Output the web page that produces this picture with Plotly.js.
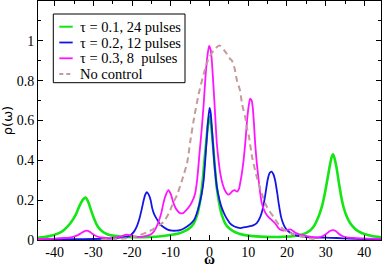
<!DOCTYPE html>
<html>
<head>
<meta charset="utf-8">
<script src="https://cdn.plot.ly/plotly-3.0.1.min.js"></script>
<style>html,body{margin:0;padding:0;background:#fff;}#chart{width:382px;height:268px;}</style>
</head>
<body>
<div id="chart"></div>
<script>
// ---- data ----
const seriesNames = ["τ = 0.1, 24 pulses", "τ = 0.2, 12 pulses", "τ = 0.3, 8\u00a0 pulses", "No control"];

const greenX = [-44.3,-42,-40.2,-38.5,-37.6,-36,-34.6,-33.5,-32.6,-32.0,-31.3,-30.6,-30.0,-29.2,-28.5,-27.5,-26.4,-25,-23,-20,-17,-14,-12,-10.2,-8,-6.7,-5,-4.1,-3.2,-2.4,-1.8,-1.3,-0.8,-0.4,0,0.4,0.9,1.4,1.9,2.6,3.2,4.0,5.0,6.0,7.0,8.5,10,13,16,19,22,24,26,27,27.8,28.5,29.2,30.0,30.6,31.1,31.6,31.9,32.3,32.8,33.4,34.0,34.6,35.5,36.4,37.5,38.5,40,42,44.3];
const greenY = [0.011,0.017,0.025,0.038,0.05,0.083,0.125,0.175,0.205,0.213,0.19,0.15,0.117,0.08,0.058,0.04,0.029,0.022,0.017,0.014,0.014,0.016,0.02,0.025,0.033,0.042,0.062,0.083,0.125,0.2,0.29,0.4,0.5,0.58,0.622,0.58,0.48,0.36,0.26,0.175,0.125,0.085,0.06,0.046,0.036,0.027,0.022,0.017,0.015,0.016,0.02,0.028,0.048,0.07,0.1,0.135,0.18,0.255,0.32,0.375,0.42,0.43,0.41,0.365,0.29,0.22,0.167,0.115,0.083,0.058,0.043,0.03,0.02,0.014];

const blueX = [-44.3,-35,-30,-26,-24,-22,-21,-20.3,-19.5,-18.8,-18.2,-17.5,-17.0,-16.6,-16.2,-15.7,-15.2,-14.8,-14.3,-13.6,-12.8,-11.9,-10.8,-9.7,-8.6,-7.6,-6.3,-5.0,-4.0,-3.3,-2.6,-2.0,-1.5,-1.1,-0.5,0,0.3,0.6,1.2,1.9,2.6,3.2,4.1,4.7,5.3,6.2,7.1,8.0,9.2,10.2,11.4,12.2,13.1,13.8,14.4,15.0,15.5,16.0,16.5,17.0,17.5,17.9,18.5,19.2,20.0,21.0,22.1,24.5,27,30,33,36,40,44.3];
const blueY = [0.004,0.004,0.005,0.007,0.01,0.014,0.018,0.025,0.042,0.067,0.1,0.155,0.2,0.228,0.24,0.228,0.2,0.16,0.13,0.105,0.08,0.065,0.052,0.047,0.047,0.05,0.062,0.08,0.1,0.133,0.18,0.233,0.3,0.4,0.567,0.663,0.64,0.567,0.4,0.267,0.2,0.16,0.12,0.1,0.083,0.07,0.063,0.06,0.065,0.068,0.075,0.085,0.115,0.16,0.225,0.3,0.335,0.343,0.33,0.295,0.235,0.18,0.115,0.075,0.05,0.035,0.025,0.016,0.012,0.012,0.01,0.007,0.005,0.005];

const magentaX = [-44.3,-40,-37.6,-35.5,-34.3,-33.3,-32.5,-31.8,-31.0,-30.3,-29.3,-28.2,-26.5,-24.7,-23.5,-22.6,-21.5,-20.6,-19.8,-18.5,-17.3,-16.0,-15.0,-14.2,-13.6,-13.0,-12.4,-11.9,-11.3,-10.6,-10.0,-9.3,-8.6,-7.6,-6.8,-6.0,-5.0,-4.2,-3.7,-3.2,-2.6,-2.0,-1.5,-1.0,-0.5,-0.1,0.3,0.6,1.0,1.3,1.9,2.4,2.8,3.4,4.1,4.8,5.3,5.9,6.5,7.1,7.6,7.9,8.4,8.8,9.3,9.7,10.1,10.5,10.9,11.2,11.5,11.8,12.2,12.7,13.1,13.5,14.1,14.8,15.5,16.1,17.0,17.8,18.5,19.1,20.0,20.9,21.5,22.1,23.0,23.9,25.5,27.8,29.3,30.3,31.1,31.9,32.6,33.3,34.3,35.5,38,41,44.3];
const magentaY = [0.005,0.007,0.01,0.015,0.022,0.033,0.042,0.047,0.042,0.032,0.02,0.013,0.01,0.011,0.015,0.02,0.027,0.025,0.02,0.016,0.017,0.022,0.03,0.048,0.07,0.1,0.14,0.185,0.225,0.25,0.23,0.185,0.155,0.135,0.135,0.15,0.175,0.205,0.235,0.3,0.43,0.56,0.683,0.83,0.93,0.975,0.955,0.9,0.78,0.683,0.483,0.39,0.333,0.28,0.245,0.228,0.232,0.245,0.25,0.243,0.255,0.283,0.34,0.4,0.5,0.6,0.67,0.71,0.7,0.66,0.58,0.483,0.39,0.3,0.235,0.185,0.15,0.125,0.11,0.1,0.083,0.06,0.05,0.047,0.05,0.053,0.047,0.037,0.03,0.024,0.018,0.013,0.02,0.033,0.045,0.05,0.045,0.033,0.02,0.013,0.009,0.007,0.006];

const noCtrlX = [-28,-25,-22,-20,-17.9,-16,-14.5,-13,-11.9,-10.5,-9.3,-8.4,-7.1,-5.8,-5.0,-4.1,-2.8,-1.5,-0.3,1.0,2.3,2.8,4.1,5.3,5.8,6.5,7.1,7.9,8.4,9.2,9.7,10.1,11.0,12.2,13.5,14.8,16.5,18.3,20.0,22.1,24,26,28];
const noCtrlY = [0.001,0.003,0.008,0.013,0.025,0.04,0.055,0.075,0.09,0.135,0.19,0.225,0.3,0.385,0.49,0.6,0.733,0.833,0.908,0.95,0.975,0.975,0.945,0.91,0.9,0.86,0.8,0.75,0.683,0.62,0.56,0.53,0.417,0.317,0.233,0.167,0.117,0.067,0.042,0.025,0.017,0.008,0.003];

const xTickVals = [-40,-30,-20,-10,0,10,20,30,40];
const xTickText = ["-40","-30","-20","-10","0","10","20","30","40"];
const yTickVals = [0,0.2,0.4,0.6,0.8,1];
const yTickText = ["0","0.2","0.4","0.6","0.8","1"];
const xTitle = "ω";
const yTitle = "ρ(ω)";

const serif = "Liberation Serif, Times New Roman, serif";

const traces = [
  {x: greenX, y: greenY, name: seriesNames[0], mode: "lines", line: {color: "#14e614", width: 2.6, shape: "spline", smoothing: 0.6}},
  {x: blueX, y: blueY, name: seriesNames[1], mode: "lines", line: {color: "#1414e6", width: 1.8, shape: "spline", smoothing: 0.6}},
  {x: magentaX, y: magentaY, name: seriesNames[2], mode: "lines", line: {color: "#ff14ff", width: 1.8, shape: "spline", smoothing: 0.6}},
  {x: noCtrlX, y: noCtrlY, name: seriesNames[3], mode: "lines", line: {color: "#c49a9a", width: 2, dash: "6px,4px", shape: "spline", smoothing: 0.6}}
];

// ---- page geometry (pixels) ----
const W = 382, H = 268;
const M = {l: 38, r: 1, t: 1, b: 28};
const plotW = W - M.l - M.r, plotH = H - M.t - M.b;
const px2paperX = px => (px - M.l) / plotW;
const py2paperY = py => (H - M.b - py) / plotH;

// legend box drawn to match the reference's compact layout
const legBox = {x0: 53.3, x1: 185, y0: 14, y1: 82.7};
const legRow0 = 26.7, legRowStep = 15.8, legLineX0 = 59.3, legLineX1 = 72.7, legTextX = 78;

const shapes = [{
  type: "rect", xref: "paper", yref: "paper", layer: "above",
  x0: px2paperX(legBox.x0), x1: px2paperX(legBox.x1),
  y0: py2paperY(legBox.y1), y1: py2paperY(legBox.y0),
  line: {color: "#000", width: 1}, fillcolor: "#fff"
}];
const annotations = [];
traces.forEach((t, i) => {
  const yy = py2paperY(legRow0 + i * legRowStep);
  shapes.push({
    type: "line", xref: "paper", yref: "paper", layer: "above",
    x0: px2paperX(legLineX0), x1: px2paperX(legLineX1), y0: yy, y1: yy,
    line: {color: t.line.color, width: Math.min(t.line.width, 2), dash: t.line.dash ? "4px,3px" : "solid"}
  });
  annotations.push({
    xref: "paper", yref: "paper", x: px2paperX(legTextX), y: yy,
    xanchor: "left", yanchor: "middle", showarrow: false,
    text: t.name, font: {family: serif, size: 14.5, color: "#000"}
  });
});
// x-axis title placed just below the tick labels
annotations.push({
  xref: "paper", yref: "paper", x: 0.5, y: 0, xanchor: "center", yanchor: "middle",
  yshift: -19, showarrow: false, borderpad: 0, text: "<b>" + xTitle + "</b>",
  font: {family: serif, size: 15, color: "#000"}
});

const layout = {
  width: W, height: H,
  margin: M,
  paper_bgcolor: "#fff", plot_bgcolor: "#fff",
  showlegend: false,
  shapes: shapes,
  annotations: annotations,
  xaxis: {
    range: [-44.3, 44.3],
    tickmode: "array", tickvals: xTickVals, ticktext: xTickText,
    ticks: "inside", ticklen: 5, tickwidth: 1, tickcolor: "#000",
    minor: {dtick: 5, tick0: 0, ticks: "inside", ticklen: 3, tickcolor: "#000"},
    showline: true, linecolor: "#000", linewidth: 1, mirror: "allticks",
    showgrid: false, zeroline: false,
    tickfont: {family: serif, size: 14, color: "#000"},
    ticklabelstandoff: -1
  },
  yaxis: {
    range: [0, 1.2],
    tickmode: "array", tickvals: yTickVals, ticktext: yTickText,
    ticks: "inside", ticklen: 5, tickwidth: 1, tickcolor: "#000",
    minor: {dtick: 0.1, tick0: 0, ticks: "inside", ticklen: 3, tickcolor: "#000"},
    showline: true, linecolor: "#000", linewidth: 1, mirror: "allticks",
    showgrid: false, zeroline: false,
    tickfont: {family: serif, size: 14, color: "#000"},
    title: {text: yTitle, font: {family: "DejaVu Sans, sans-serif", size: 13, color: "#000"}, standoff: 4}
  }
};

Plotly.newPlot("chart", traces, layout, {displayModeBar: false, staticPlot: true});
</script>
</body>
</html>
